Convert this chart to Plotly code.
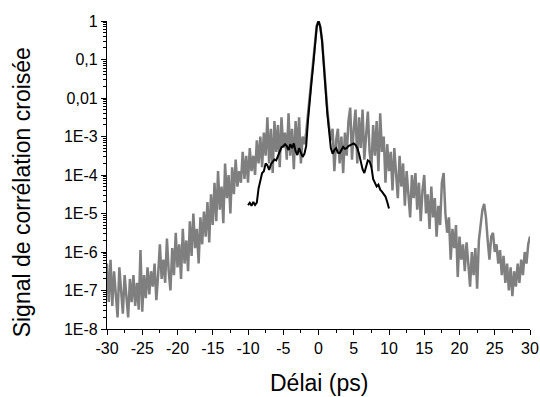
import numpy as np
import plotly.graph_objects as go

# ---- data (log10 of signal) ----
gray_x_start, gray_x_step = -30.0, 0.25
gray_log = [
    -6.3, -7.3, -6.2, -7.4, -6.5, -7.0, -7.7, -6.4,      # -30 .. -28.25
    -6.9, -7.6, -6.6, -7.2, -7.7, -6.7, -7.3, -6.6,      # -28
    -7.4, -6.8, -7.5, -5.95, -7.55, -6.6, -7.2, -6.4,    # -26
    -7.1, -6.5, -6.9, -6.3, -7.25, -6.6, -5.8, -6.7,     # -24
    -6.2, -6.8, -5.65, -6.5, -7.0, -5.9, -6.6, -5.5,     # -22
    -6.4, -5.8, -6.7, -5.4, -6.3, -5.7, -6.5, -5.2,      # -20
    -6.1, -5.0, -5.9, -5.4, -6.3, -5.1, -5.8, -4.95,     # -18
    -5.6, -4.7, -5.75, -4.5, -5.3, -4.2, -5.2, -3.9,     # -16
    -4.9, -4.3, -5.25, -3.7, -4.6, -4.0, -5.0, -3.8,     # -14
    -4.5, -3.6, -4.3, -3.9, -4.2, -3.4, -4.1, -3.5,      # -12
    -4.2, -3.3, -3.9, -3.5, -4.0, -3.1, -3.7, -3.0,      # -10
    -3.8, -2.9, -3.5, -2.5, -3.7, -2.8, -3.95, -2.6,     # -8
    -3.4, -2.7, -3.8, -2.5, -3.3, -2.9, -3.6, -2.4,      # -6
    -3.5, -2.8, -3.85, -2.6, -3.4, -2.5, -3.7, -3.0,     # -4
    -3.2, -2.9, -2.4, -1.9, -1.5, -1.1, -0.55, -0.12,    # -2
    0.0, -0.15, -0.5, -1.15, -1.75, -2.3, -2.75, -3.1,   # 0
    -2.8, -3.9, -3.1, -2.8, -3.7, -3.0, -3.95, -2.9,     # 2
    -3.5, -2.6, -2.25, -3.6, -2.8, -2.3, -3.7, -2.5,     # 4
    -3.3, -2.3, -3.6, -2.9, -2.35, -3.4, -3.8, -2.7,     # 6
    -3.5, -2.6, -3.9, -2.4, -3.4, -3.0, -4.2, -3.2,      # 8
    -3.9, -3.4, -4.4, -3.3, -4.0, -4.6, -3.5, -4.3,      # 10
    -3.7, -4.8, -3.9, -4.5, -5.1, -4.0, -4.6, -3.95,     # 12
    -4.9, -4.2, -5.2, -4.4, -4.0, -5.0, -4.5, -5.4,      # 14
    -4.3, -5.1, -4.6, -5.6, -4.8, -5.3, -4.2, -3.95,     # 16
    -5.0, -5.5, -5.1, -6.2, -5.4, -5.9, -5.3, -6.65,     # 18
    -5.6, -6.2, -5.8, -6.5, -5.75, -6.3, -6.9, -6.0,     # 20
    -6.6, -5.9, -6.95, -5.7, -5.2, -4.9, -4.75, -5.1,    # 22
    -5.7, -6.2, -5.6, -5.5, -6.0, -5.8, -6.3, -5.95,     # 24
    -6.6, -6.1, -6.8, -6.3, -7.0, -6.4, -7.15, -6.5,     # 26
    -6.9, -6.3, -6.8, -6.2, -6.6, -6.0, -6.3, -5.8,      # 28
    -5.6,                                                # 30
]

black_x = [
    -10, -9.75, -9.5, -9.25, -9, -8.75, -8.5, -8.25, -8, -7.75, -7.5, -7.25,
    -7, -6.75, -6.5, -6.25, -6, -5.75, -5.5, -5.25, -5, -4.75, -4.5, -4.25,
    -4, -3.75, -3.5, -3.25, -3, -2.75, -2.5, -2.25, -2, -1.75, -1.5, -1.25,
    -1, -0.75, -0.5, -0.25, 0, 0.25, 0.5, 0.75, 1, 1.25, 1.5, 1.75,
    2, 2.25, 2.5, 2.75, 3, 3.25, 3.5, 3.75, 4, 4.25, 4.5, 4.75,
    5, 5.25, 5.5, 5.75, 6, 6.25, 6.5, 6.75, 7, 7.25, 7.5, 7.75,
    8, 8.25, 8.5, 8.75, 9, 9.25, 9.5, 9.75, 10,
]
black_log = [
    -4.78, -4.72, -4.8, -4.7, -4.78, -4.72, -4.35, -4.15, -3.95, -3.9, -3.7, -3.75,
    -3.87, -3.72, -3.65, -3.6, -3.62, -3.5, -3.42, -3.28, -3.25, -3.2, -3.25, -3.35,
    -3.2, -3.3, -3.18, -3.38, -3.48, -3.3, -3.42, -3.53, -3.45, -3.25, -2.6, -2.0,
    -1.6, -1.15, -0.6, -0.15, 0.0, -0.15, -0.5, -1.2, -1.8, -2.4, -2.85, -3.3,
    -3.45, -3.35, -3.3, -3.42, -3.43, -3.35, -3.27, -3.32, -3.3, -3.25, -3.22, -3.2,
    -3.18, -3.22, -3.3, -3.45, -3.7, -3.85, -3.95, -3.8, -3.62, -3.65, -3.78, -4.1,
    -4.2, -4.3, -4.25, -4.38, -4.43, -4.5, -4.56, -4.7, -4.87,
]

y_tickvals = [1e-8, 1e-7, 1e-6, 1e-5, 1e-4, 1e-3, 1e-2, 1e-1, 1]
y_ticktext = ["1E-8", "1E-7", "1E-6", "1E-5", "1E-4", "1E-3", "0,01", "0,1", "1"]
x_tickvals = [-30, -25, -20, -15, -10, -5, 0, 5, 10, 15, 20, 25, 30]
x_ticktext = ["-30", "-25", "-20", "-15", "-10", "-5", "0", "5", "10", "15", "20", "25", "30"]
x_title = "Délai (ps)"
y_title = "Signal de corrélation croisée"

gray_x = [gray_x_start + gray_x_step * i for i in range(len(gray_log))]
gray_y = [10 ** v for v in gray_log]
black_y = [10 ** v for v in black_log]

y_minor = [k * 10.0 ** e for e in range(-8, 0) for k in range(2, 10)]

fig = go.Figure()
fig.add_trace(go.Scatter(x=gray_x, y=gray_y, mode="lines",
                         line=dict(color="#7f7f7f", width=2.5), showlegend=False))
fig.add_trace(go.Scatter(x=black_x, y=black_y, mode="lines",
                         line=dict(color="black", width=2), showlegend=False))

font = "Liberation Sans, Arial, sans-serif"
fig.update_layout(
    width=540, height=397,
    margin=dict(l=107, r=10, t=21, b=68),
    paper_bgcolor="white", plot_bgcolor="white",
    font=dict(family=font, color="black", size=16),
    xaxis=dict(
        range=[-30, 30], tickmode="array", tickvals=x_tickvals, ticktext=x_ticktext,
        ticks="outside", ticklen=5, tickwidth=1.2, tickcolor="black",
        showline=True, linecolor="black", linewidth=1.2, showgrid=False, zeroline=False,
        minor=dict(ticks="outside", ticklen=3, tickwidth=1.2, tickcolor="black", dtick=2.5, tick0=-30),
        tickfont=dict(size=16), automargin=False,
    ),
    yaxis=dict(
        type="log", range=[-8, 0], tickmode="array", tickvals=y_tickvals, ticktext=y_ticktext,
        ticks="outside", ticklen=5, tickwidth=1.2, tickcolor="black",
        showline=True, linecolor="black", linewidth=1.2, showgrid=False, zeroline=False,
        minor=dict(ticks="outside", ticklen=3, tickwidth=1, tickcolor="black",
                   tickmode="array", tickvals=y_minor),
        tickfont=dict(size=16), automargin=False,
    ),
    annotations=[
        dict(text=x_title, xref="paper", yref="paper", x=0.5, y=-0.175,
             xanchor="center", yanchor="middle", showarrow=False, font=dict(size=23)),
        dict(text=y_title, xref="paper", yref="paper", x=-0.2, y=0.445, textangle=-90,
             xanchor="center", yanchor="middle", showarrow=False, font=dict(size=23)),
    ],
)

fig.write_html("out.html", config={"displayModeBar": False},
               post_script="document.body.style.margin='0';document.body.style.overflow='hidden';")
